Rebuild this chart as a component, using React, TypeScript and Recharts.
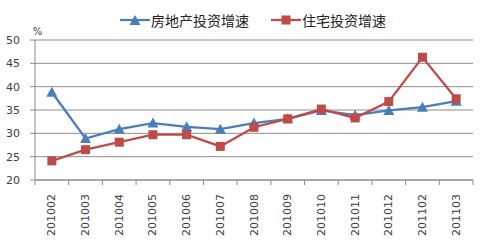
import { CartesianGrid, Legend, Line, LineChart, XAxis, YAxis } from 'recharts'

const months = ['201002', '201003', '201004', '201005', '201006', '201007', '201008', '201009', '201010', '201011', '201012', '201102', '201103']
const realEstate = [38.8, 28.9, 30.9, 32.2, 31.4, 30.9, 32.2, 33.1, 34.9, 33.9, 34.9, 35.6, 36.9]
const housing = [24.1, 26.5, 28.1, 29.7, 29.7, 27.2, 31.3, 33.1, 35.2, 33.3, 36.8, 46.3, 37.4]
const yTicks = [20, 25, 30, 35, 40, 45, 50]

const BLUE = '#4A7EBB'
const RED = '#BE4B48'
const TEXT = '#404040'
const GRID = '#8c8c8c'

const data = months.map((m, i) => ({ pos: i + 0.5, month: m, realEstate: realEstate[i], housing: housing[i] }))
// category labels sit at half steps, tick marks at the boundaries between them
const xTicks = months.flatMap((_, i) => [i, i + 0.5]).concat(months.length)

function triangle(cx: number, cy: number, fill: string, key?: string | number) {
  return <path key={key} d={`M${cx},${cy - 5.5}L${cx + 5.5},${cy + 4.5}L${cx - 5.5},${cy + 4.5}Z`} fill={fill} />
}

function square(cx: number, cy: number, fill: string, key?: string | number) {
  return <rect key={key} x={cx - 4.5} y={cy - 4.5} width={9} height={9} fill={fill} />
}

function XTick({ x, y, payload }: any) {
  const v = payload.value
  if (Number.isInteger(v)) {
    return <line x1={x} x2={x} y1={y - 5} y2={y} stroke={GRID} />
  }
  const label = months[Math.floor(v)]
  return (
    <text x={x} y={y + 9} transform={`rotate(-90 ${x} ${y + 9})`} textAnchor="end" dominantBaseline="central"
      fontSize={11} fill={TEXT}>
      {label}
    </text>
  )
}

function LegendBox() {
  const item = (name: string, color: string, marker: 'tri' | 'sq') => (
    <div style={{ display: 'flex', alignItems: 'center', marginRight: 22 }}>
      <svg width={30} height={14}>
        <line x1={0} x2={30} y1={7} y2={7} stroke={color} strokeWidth={2.25} />
        {marker === 'tri' ? triangle(15, 7.5, color) : square(15, 7, color)}
      </svg>
      <span style={{ marginLeft: 1, fontSize: 14, color: '#222', fontFamily: '"Noto Sans CJK SC"' }}>{name}</span>
    </div>
  )
  return (
    <div style={{ height: 32, display: 'flex', alignItems: 'flex-start', paddingLeft: 120, lineHeight: '24px' }}>
      {item('房地产投资增速', BLUE, 'tri')}
      {item('住宅投资增速', RED, 'sq')}
    </div>
  )
}

export default function App() {
  return (
    <div style={{ position: 'absolute', left: 0, top: 0, fontFamily: '"DejaVu Sans"' }}>
      <LineChart width={495} height={243} data={data} margin={{ top: 8, right: 22, bottom: 0, left: 0 }}>
        <CartesianGrid vertical={false} stroke={GRID} />
        <Legend verticalAlign="top" wrapperStyle={{ left: 0, width: 495 }} content={() => <LegendBox />} />
        <XAxis dataKey="pos" type="number" domain={[0, months.length]} ticks={xTicks} interval={0}
          height={63} tickSize={5} tickMargin={0} tickLine={false} axisLine={{ stroke: GRID }} tick={<XTick />} />
        <YAxis type="number" domain={[20, 50]} ticks={yTicks} width={35} tickSize={5} tickMargin={10}
          axisLine={{ stroke: GRID }} tickLine={{ stroke: GRID }} tick={{ fontSize: 11, fill: TEXT }}
          label={{ value: '%', position: 'top', dx: 20, dy: 0, fontSize: 10, fill: TEXT }} />
        <Line dataKey="realEstate" name="房地产投资增速" stroke={BLUE} strokeWidth={2.25} isAnimationActive={false}
          dot={(p: any) => triangle(p.cx, p.cy, BLUE, p.index)} />
        <Line dataKey="housing" name="住宅投资增速" stroke={RED} strokeWidth={2.25} isAnimationActive={false}
          dot={(p: any) => square(p.cx, p.cy, RED, p.index)} />
      </LineChart>
    </div>
  )
}
